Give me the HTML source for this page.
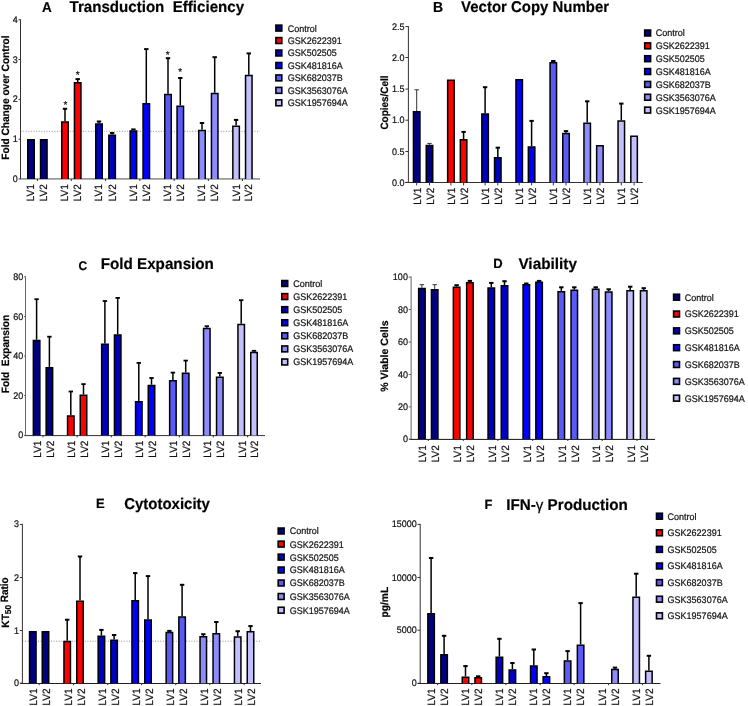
<!DOCTYPE html>
<html><head><meta charset="utf-8"><title>Figure</title>
<style>
html,body{margin:0;padding:0;background:#fff;}
body{width:748px;height:706px;overflow:hidden;}
svg{display:block;font-family:"Liberation Sans",sans-serif;will-change:transform;}
text{stroke:#111;stroke-width:0.2px;text-rendering:geometricPrecision;}
</style></head>
<body>
<svg width="748" height="706" viewBox="0 0 748 706" font-family="Liberation Sans, sans-serif">
<rect width="748" height="706" fill="#fff"/>
<line x1="20.5" y1="131.3" x2="260" y2="131.3" stroke="#777" stroke-width="0.8" stroke-dasharray="1,1.6"/>
<line x1="20.5" y1="178.9" x2="260" y2="178.9" stroke="#999" stroke-width="1.7"/>
<rect x="27.75" y="139.75" width="6.5" height="39.25" fill="#000080"/>
<path d="M27.75 179V139.75H34.25V179" fill="none" stroke="#000" stroke-width="1.5"/>
<rect x="40.55" y="139.75" width="6.5" height="39.25" fill="#000080"/>
<path d="M40.55 179V139.75H47.05V179" fill="none" stroke="#000" stroke-width="1.5"/>
<line x1="65" y1="121.3" x2="65" y2="108.8" stroke="#000" stroke-width="1.5"/>
<line x1="62.8" y1="108.8" x2="67.2" y2="108.8" stroke="#000" stroke-width="2"/>
<rect x="61.75" y="122.05" width="6.5" height="56.95" fill="#ff0000"/>
<path d="M61.75 179V122.05H68.25V179" fill="none" stroke="#000" stroke-width="1.5"/>
<line x1="77.7" y1="82" x2="77.7" y2="79.1" stroke="#000" stroke-width="1.5"/>
<line x1="75.5" y1="79.1" x2="79.9" y2="79.1" stroke="#000" stroke-width="2"/>
<rect x="74.45" y="82.75" width="6.5" height="96.25" fill="#ff0000"/>
<path d="M74.45 179V82.75H80.95V179" fill="none" stroke="#000" stroke-width="1.5"/>
<line x1="99" y1="123.2" x2="99" y2="121.5" stroke="#000" stroke-width="1.5"/>
<line x1="96.8" y1="121.5" x2="101.2" y2="121.5" stroke="#000" stroke-width="2"/>
<rect x="95.75" y="123.95" width="6.5" height="55.05" fill="#0000c0"/>
<path d="M95.75 179V123.95H102.25V179" fill="none" stroke="#000" stroke-width="1.5"/>
<line x1="112.1" y1="134.5" x2="112.1" y2="133" stroke="#000" stroke-width="1.5"/>
<line x1="109.9" y1="133" x2="114.3" y2="133" stroke="#000" stroke-width="2"/>
<rect x="108.85" y="135.25" width="6.5" height="43.75" fill="#0000c0"/>
<path d="M108.85 179V135.25H115.35V179" fill="none" stroke="#000" stroke-width="1.5"/>
<line x1="133.4" y1="130.2" x2="133.4" y2="129.4" stroke="#000" stroke-width="1.5"/>
<line x1="131.2" y1="129.4" x2="135.6" y2="129.4" stroke="#000" stroke-width="2"/>
<rect x="130.15" y="130.95" width="6.5" height="48.05" fill="#0000ff"/>
<path d="M130.15 179V130.95H136.65V179" fill="none" stroke="#000" stroke-width="1.5"/>
<line x1="146.3" y1="103.1" x2="146.3" y2="49.1" stroke="#000" stroke-width="1.5"/>
<line x1="144.1" y1="49.1" x2="148.5" y2="49.1" stroke="#000" stroke-width="2"/>
<rect x="143.05" y="103.85" width="6.5" height="75.15" fill="#0000ff"/>
<path d="M143.05 179V103.85H149.55V179" fill="none" stroke="#000" stroke-width="1.5"/>
<line x1="168" y1="93.7" x2="168" y2="58.2" stroke="#000" stroke-width="1.5"/>
<line x1="165.8" y1="58.2" x2="170.2" y2="58.2" stroke="#000" stroke-width="2"/>
<rect x="164.75" y="94.45" width="6.5" height="84.55" fill="#5a5af8"/>
<path d="M164.75 179V94.45H171.25V179" fill="none" stroke="#000" stroke-width="1.5"/>
<line x1="180.3" y1="105.4" x2="180.3" y2="78" stroke="#000" stroke-width="1.5"/>
<line x1="178.1" y1="78" x2="182.5" y2="78" stroke="#000" stroke-width="2"/>
<rect x="177.05" y="106.15" width="6.5" height="72.85" fill="#5a5af8"/>
<path d="M177.05 179V106.15H183.55V179" fill="none" stroke="#000" stroke-width="1.5"/>
<line x1="202" y1="129.8" x2="202" y2="123" stroke="#000" stroke-width="1.5"/>
<line x1="199.8" y1="123" x2="204.2" y2="123" stroke="#000" stroke-width="2"/>
<rect x="198.75" y="130.55" width="6.5" height="48.45" fill="#8c8cfc"/>
<path d="M198.75 179V130.55H205.25V179" fill="none" stroke="#000" stroke-width="1.5"/>
<line x1="214.7" y1="92.7" x2="214.7" y2="57.2" stroke="#000" stroke-width="1.5"/>
<line x1="212.5" y1="57.2" x2="216.9" y2="57.2" stroke="#000" stroke-width="2"/>
<rect x="211.45" y="93.45" width="6.5" height="85.55" fill="#8c8cfc"/>
<path d="M211.45 179V93.45H217.95V179" fill="none" stroke="#000" stroke-width="1.5"/>
<line x1="236.1" y1="125.6" x2="236.1" y2="119.9" stroke="#000" stroke-width="1.5"/>
<line x1="233.9" y1="119.9" x2="238.3" y2="119.9" stroke="#000" stroke-width="2"/>
<rect x="232.85" y="126.35" width="6.5" height="52.65" fill="#c2c0fc"/>
<path d="M232.85 179V126.35H239.35V179" fill="none" stroke="#000" stroke-width="1.5"/>
<line x1="248.8" y1="74.7" x2="248.8" y2="53.4" stroke="#000" stroke-width="1.5"/>
<line x1="246.6" y1="53.4" x2="251" y2="53.4" stroke="#000" stroke-width="2"/>
<rect x="245.55" y="75.45" width="6.5" height="103.55" fill="#c2c0fc"/>
<path d="M245.55 179V75.45H252.05V179" fill="none" stroke="#000" stroke-width="1.5"/>
<line x1="37.4" y1="179" x2="37.4" y2="181" stroke="#333" stroke-width="1"/>
<line x1="71.35" y1="179" x2="71.35" y2="181" stroke="#333" stroke-width="1"/>
<line x1="105.55" y1="179" x2="105.55" y2="181" stroke="#333" stroke-width="1"/>
<line x1="139.85" y1="179" x2="139.85" y2="181" stroke="#333" stroke-width="1"/>
<line x1="174.15" y1="179" x2="174.15" y2="181" stroke="#333" stroke-width="1"/>
<line x1="208.35" y1="179" x2="208.35" y2="181" stroke="#333" stroke-width="1"/>
<line x1="242.45" y1="179" x2="242.45" y2="181" stroke="#333" stroke-width="1"/>
<line x1="20.5" y1="19.3" x2="20.5" y2="179" stroke="#333" stroke-width="1"/>
<line x1="18.5" y1="179" x2="20.5" y2="179" stroke="#333" stroke-width="1"/>
<text transform="translate(17.7,182) scale(1,1.06)" font-size="9" text-anchor="end" fill="#111">0</text>
<line x1="18.5" y1="139.2" x2="20.5" y2="139.2" stroke="#333" stroke-width="1"/>
<text transform="translate(17.7,142.2) scale(1,1.06)" font-size="9" text-anchor="end" fill="#111">1</text>
<line x1="18.5" y1="99.4" x2="20.5" y2="99.4" stroke="#333" stroke-width="1"/>
<text transform="translate(17.7,102.4) scale(1,1.06)" font-size="9" text-anchor="end" fill="#111">2</text>
<line x1="18.5" y1="59.5" x2="20.5" y2="59.5" stroke="#333" stroke-width="1"/>
<text transform="translate(17.7,62.5) scale(1,1.06)" font-size="9" text-anchor="end" fill="#111">3</text>
<line x1="18.5" y1="19.8" x2="20.5" y2="19.8" stroke="#333" stroke-width="1"/>
<text transform="translate(17.7,22.8) scale(1,1.06)" font-size="9" text-anchor="end" fill="#111">4</text>
<text transform="translate(34.4,184.2) rotate(-90) scale(1,1.06)" font-size="10" text-anchor="end" fill="#111">LV1</text>
<text transform="translate(47.2,184.2) rotate(-90) scale(1,1.06)" font-size="10" text-anchor="end" fill="#111">LV2</text>
<text transform="translate(68.4,184.2) rotate(-90) scale(1,1.06)" font-size="10" text-anchor="end" fill="#111">LV1</text>
<text transform="translate(81.1,184.2) rotate(-90) scale(1,1.06)" font-size="10" text-anchor="end" fill="#111">LV2</text>
<text transform="translate(102.4,184.2) rotate(-90) scale(1,1.06)" font-size="10" text-anchor="end" fill="#111">LV1</text>
<text transform="translate(115.5,184.2) rotate(-90) scale(1,1.06)" font-size="10" text-anchor="end" fill="#111">LV2</text>
<text transform="translate(136.8,184.2) rotate(-90) scale(1,1.06)" font-size="10" text-anchor="end" fill="#111">LV1</text>
<text transform="translate(149.7,184.2) rotate(-90) scale(1,1.06)" font-size="10" text-anchor="end" fill="#111">LV2</text>
<text transform="translate(171.4,184.2) rotate(-90) scale(1,1.06)" font-size="10" text-anchor="end" fill="#111">LV1</text>
<text transform="translate(183.7,184.2) rotate(-90) scale(1,1.06)" font-size="10" text-anchor="end" fill="#111">LV2</text>
<text transform="translate(205.4,184.2) rotate(-90) scale(1,1.06)" font-size="10" text-anchor="end" fill="#111">LV1</text>
<text transform="translate(218.1,184.2) rotate(-90) scale(1,1.06)" font-size="10" text-anchor="end" fill="#111">LV2</text>
<text transform="translate(239.5,184.2) rotate(-90) scale(1,1.06)" font-size="10" text-anchor="end" fill="#111">LV1</text>
<text transform="translate(252.2,184.2) rotate(-90) scale(1,1.06)" font-size="10" text-anchor="end" fill="#111">LV2</text>
<text x="65.4" y="107.5" font-size="10" text-anchor="middle" fill="#111">*</text>
<text x="77.75" y="78.3" font-size="10" text-anchor="middle" fill="#111">*</text>
<text x="167.8" y="57.6" font-size="10" text-anchor="middle" fill="#111">*</text>
<text x="180.3" y="74.8" font-size="10" text-anchor="middle" fill="#111">*</text>
<text transform="translate(8.5,159.7) rotate(-90) scale(1,1.06)" font-size="10" font-weight="bold" fill="#000" textLength="124.3" lengthAdjust="spacingAndGlyphs">Fold Change over Control</text>
<text transform="translate(41.9,11.8) scale(1,1.04)" font-size="13.5" font-weight="bold" fill="#000">A</text>
<text transform="translate(69.5,11.8) scale(1,1.04)" font-size="15" font-weight="bold" fill="#000" textLength="174.6" lengthAdjust="spacingAndGlyphs">Transduction&#160;&#160;Efficiency</text>
<rect x="275.9" y="25.15" width="5.9" height="5.9" fill="#000080" stroke="#000" stroke-width="1.6"/>
<text transform="translate(287.8,31.5) scale(1,1.06)" font-size="9" fill="#111">Control</text>
<rect x="275.9" y="37.6" width="5.9" height="5.9" fill="#ff0000" stroke="#000" stroke-width="1.6"/>
<text transform="translate(287.8,43.95) scale(1,1.06)" font-size="9" fill="#111">GSK2622391</text>
<rect x="275.9" y="50.05" width="5.9" height="5.9" fill="#0000c0" stroke="#000" stroke-width="1.6"/>
<text transform="translate(287.8,56.4) scale(1,1.06)" font-size="9" fill="#111">GSK502505</text>
<rect x="275.9" y="62.5" width="5.9" height="5.9" fill="#0000ff" stroke="#000" stroke-width="1.6"/>
<text transform="translate(287.8,68.85) scale(1,1.06)" font-size="9" fill="#111">GSK481816A</text>
<rect x="275.9" y="74.95" width="5.9" height="5.9" fill="#5a5af8" stroke="#000" stroke-width="1.6"/>
<text transform="translate(287.8,81.3) scale(1,1.06)" font-size="9" fill="#111">GSK682037B</text>
<rect x="275.9" y="87.4" width="5.9" height="5.9" fill="#8c8cfc" stroke="#000" stroke-width="1.6"/>
<text transform="translate(287.8,93.75) scale(1,1.06)" font-size="9" fill="#111">GSK3563076A</text>
<rect x="275.9" y="99.85" width="5.9" height="5.9" fill="#c2c0fc" stroke="#000" stroke-width="1.6"/>
<text transform="translate(287.8,106.2) scale(1,1.06)" font-size="9" fill="#111">GSK1957694A</text>
<line x1="405.3" y1="182.5" x2="642.8" y2="182.5" stroke="#333" stroke-width="1.0"/>
<line x1="416.7" y1="111" x2="416.7" y2="89.8" stroke="#333" stroke-width="1.0"/>
<line x1="414.5" y1="89.8" x2="418.9" y2="89.8" stroke="#333" stroke-width="1.0"/>
<rect x="413.45" y="111.75" width="6.5" height="70.65" fill="#000080"/>
<path d="M413.45 182.4V111.75H419.95V182.4" fill="none" stroke="#000" stroke-width="1.5"/>
<line x1="429.5" y1="144.7" x2="429.5" y2="143.4" stroke="#333" stroke-width="1.0"/>
<line x1="427.3" y1="143.4" x2="431.7" y2="143.4" stroke="#333" stroke-width="1.0"/>
<rect x="426.25" y="145.45" width="6.5" height="36.95" fill="#000080"/>
<path d="M426.25 182.4V145.45H432.75V182.4" fill="none" stroke="#000" stroke-width="1.5"/>
<rect x="447.65" y="80.15" width="6.5" height="102.25" fill="#ff0000"/>
<path d="M447.65 182.4V80.15H454.15V182.4" fill="none" stroke="#000" stroke-width="1.5"/>
<line x1="463.6" y1="139.1" x2="463.6" y2="131.9" stroke="#000" stroke-width="1.5"/>
<line x1="461.4" y1="131.9" x2="465.8" y2="131.9" stroke="#000" stroke-width="2"/>
<rect x="460.35" y="139.85" width="6.5" height="42.55" fill="#ff0000"/>
<path d="M460.35 182.4V139.85H466.85V182.4" fill="none" stroke="#000" stroke-width="1.5"/>
<line x1="485.1" y1="113.3" x2="485.1" y2="87.2" stroke="#000" stroke-width="1.5"/>
<line x1="482.9" y1="87.2" x2="487.3" y2="87.2" stroke="#000" stroke-width="2"/>
<rect x="481.85" y="114.05" width="6.5" height="68.35" fill="#0000c0"/>
<path d="M481.85 182.4V114.05H488.35V182.4" fill="none" stroke="#000" stroke-width="1.5"/>
<line x1="497.8" y1="156.9" x2="497.8" y2="147.7" stroke="#000" stroke-width="1.5"/>
<line x1="495.6" y1="147.7" x2="500" y2="147.7" stroke="#000" stroke-width="2"/>
<rect x="494.55" y="157.65" width="6.5" height="24.75" fill="#0000c0"/>
<path d="M494.55 182.4V157.65H501.05V182.4" fill="none" stroke="#000" stroke-width="1.5"/>
<rect x="515.95" y="79.65" width="6.5" height="102.75" fill="#0000ff"/>
<path d="M515.95 182.4V79.65H522.45V182.4" fill="none" stroke="#000" stroke-width="1.5"/>
<line x1="531.6" y1="146.2" x2="531.6" y2="120.9" stroke="#000" stroke-width="1.5"/>
<line x1="529.4" y1="120.9" x2="533.8" y2="120.9" stroke="#000" stroke-width="2"/>
<rect x="528.35" y="146.95" width="6.5" height="35.45" fill="#0000ff"/>
<path d="M528.35 182.4V146.95H534.85V182.4" fill="none" stroke="#000" stroke-width="1.5"/>
<line x1="553.3" y1="62.1" x2="553.3" y2="61" stroke="#000" stroke-width="1.5"/>
<line x1="551.1" y1="61" x2="555.5" y2="61" stroke="#000" stroke-width="2"/>
<rect x="550.05" y="62.85" width="6.5" height="119.55" fill="#5a5af8"/>
<path d="M550.05 182.4V62.85H556.55V182.4" fill="none" stroke="#000" stroke-width="1.5"/>
<line x1="566" y1="132.7" x2="566" y2="131.1" stroke="#000" stroke-width="1.5"/>
<line x1="563.8" y1="131.1" x2="568.2" y2="131.1" stroke="#000" stroke-width="2"/>
<rect x="562.75" y="133.45" width="6.5" height="48.95" fill="#5a5af8"/>
<path d="M562.75 182.4V133.45H569.25V182.4" fill="none" stroke="#000" stroke-width="1.5"/>
<line x1="587.2" y1="122.5" x2="587.2" y2="101.3" stroke="#000" stroke-width="1.5"/>
<line x1="585" y1="101.3" x2="589.4" y2="101.3" stroke="#000" stroke-width="2"/>
<rect x="583.95" y="123.25" width="6.5" height="59.15" fill="#8c8cfc"/>
<path d="M583.95 182.4V123.25H590.45V182.4" fill="none" stroke="#000" stroke-width="1.5"/>
<rect x="596.65" y="145.65" width="6.5" height="36.75" fill="#8c8cfc"/>
<path d="M596.65 182.4V145.65H603.15V182.4" fill="none" stroke="#000" stroke-width="1.5"/>
<line x1="621.3" y1="120.2" x2="621.3" y2="103.6" stroke="#000" stroke-width="1.5"/>
<line x1="619.1" y1="103.6" x2="623.5" y2="103.6" stroke="#000" stroke-width="2"/>
<rect x="618.05" y="120.95" width="6.5" height="61.45" fill="#c2c0fc"/>
<path d="M618.05 182.4V120.95H624.55V182.4" fill="none" stroke="#000" stroke-width="1.5"/>
<rect x="630.85" y="136.25" width="6.5" height="46.15" fill="#c2c0fc"/>
<path d="M630.85 182.4V136.25H637.35V182.4" fill="none" stroke="#000" stroke-width="1.5"/>
<line x1="416.7" y1="182.4" x2="416.7" y2="185.4" stroke="#333" stroke-width="1"/>
<line x1="429.5" y1="182.4" x2="429.5" y2="185.4" stroke="#333" stroke-width="1"/>
<line x1="450.9" y1="182.4" x2="450.9" y2="185.4" stroke="#333" stroke-width="1"/>
<line x1="463.6" y1="182.4" x2="463.6" y2="185.4" stroke="#333" stroke-width="1"/>
<line x1="485.1" y1="182.4" x2="485.1" y2="185.4" stroke="#333" stroke-width="1"/>
<line x1="497.8" y1="182.4" x2="497.8" y2="185.4" stroke="#333" stroke-width="1"/>
<line x1="519.2" y1="182.4" x2="519.2" y2="185.4" stroke="#333" stroke-width="1"/>
<line x1="531.6" y1="182.4" x2="531.6" y2="185.4" stroke="#333" stroke-width="1"/>
<line x1="553.3" y1="182.4" x2="553.3" y2="185.4" stroke="#333" stroke-width="1"/>
<line x1="566" y1="182.4" x2="566" y2="185.4" stroke="#333" stroke-width="1"/>
<line x1="587.2" y1="182.4" x2="587.2" y2="185.4" stroke="#333" stroke-width="1"/>
<line x1="599.9" y1="182.4" x2="599.9" y2="185.4" stroke="#333" stroke-width="1"/>
<line x1="621.3" y1="182.4" x2="621.3" y2="185.4" stroke="#333" stroke-width="1"/>
<line x1="634.1" y1="182.4" x2="634.1" y2="185.4" stroke="#333" stroke-width="1"/>
<line x1="408.4" y1="26.1" x2="408.4" y2="182.4" stroke="#333" stroke-width="1"/>
<line x1="405.4" y1="182.4" x2="408.4" y2="182.4" stroke="#333" stroke-width="1"/>
<text transform="translate(404.6,186.4) scale(1,1.06)" font-size="9" text-anchor="end" fill="#111">0.0</text>
<line x1="405.4" y1="151.5" x2="408.4" y2="151.5" stroke="#333" stroke-width="1"/>
<text transform="translate(404.6,154.5) scale(1,1.06)" font-size="9" text-anchor="end" fill="#111">0.5</text>
<line x1="405.4" y1="120.2" x2="408.4" y2="120.2" stroke="#333" stroke-width="1"/>
<text transform="translate(404.6,123.2) scale(1,1.06)" font-size="9" text-anchor="end" fill="#111">1.0</text>
<line x1="405.4" y1="89.1" x2="408.4" y2="89.1" stroke="#333" stroke-width="1"/>
<text transform="translate(404.6,92.1) scale(1,1.06)" font-size="9" text-anchor="end" fill="#111">1.5</text>
<line x1="405.4" y1="57.5" x2="408.4" y2="57.5" stroke="#333" stroke-width="1"/>
<text transform="translate(404.6,60.5) scale(1,1.06)" font-size="9" text-anchor="end" fill="#111">2.0</text>
<line x1="405.4" y1="26.6" x2="408.4" y2="26.6" stroke="#333" stroke-width="1"/>
<text transform="translate(404.6,29.6) scale(1,1.06)" font-size="9" text-anchor="end" fill="#111">2.5</text>
<text transform="translate(420.7,187.6) rotate(-90) scale(1,1.06)" font-size="10" text-anchor="end" fill="#111">LV1</text>
<text transform="translate(433.5,187.6) rotate(-90) scale(1,1.06)" font-size="10" text-anchor="end" fill="#111">LV2</text>
<text transform="translate(454.9,187.6) rotate(-90) scale(1,1.06)" font-size="10" text-anchor="end" fill="#111">LV1</text>
<text transform="translate(467.6,187.6) rotate(-90) scale(1,1.06)" font-size="10" text-anchor="end" fill="#111">LV2</text>
<text transform="translate(489.1,187.6) rotate(-90) scale(1,1.06)" font-size="10" text-anchor="end" fill="#111">LV1</text>
<text transform="translate(501.8,187.6) rotate(-90) scale(1,1.06)" font-size="10" text-anchor="end" fill="#111">LV2</text>
<text transform="translate(523.2,187.6) rotate(-90) scale(1,1.06)" font-size="10" text-anchor="end" fill="#111">LV1</text>
<text transform="translate(535.6,187.6) rotate(-90) scale(1,1.06)" font-size="10" text-anchor="end" fill="#111">LV2</text>
<text transform="translate(557.3,187.6) rotate(-90) scale(1,1.06)" font-size="10" text-anchor="end" fill="#111">LV1</text>
<text transform="translate(570,187.6) rotate(-90) scale(1,1.06)" font-size="10" text-anchor="end" fill="#111">LV2</text>
<text transform="translate(591.2,187.6) rotate(-90) scale(1,1.06)" font-size="10" text-anchor="end" fill="#111">LV1</text>
<text transform="translate(603.9,187.6) rotate(-90) scale(1,1.06)" font-size="10" text-anchor="end" fill="#111">LV2</text>
<text transform="translate(625.3,187.6) rotate(-90) scale(1,1.06)" font-size="10" text-anchor="end" fill="#111">LV1</text>
<text transform="translate(638.1,187.6) rotate(-90) scale(1,1.06)" font-size="10" text-anchor="end" fill="#111">LV2</text>
<text transform="translate(387.9,129.6) rotate(-90) scale(1,1.06)" font-size="10" font-weight="bold" fill="#000" textLength="54.2" lengthAdjust="spacingAndGlyphs">Copies/Cell</text>
<text transform="translate(432.9,12) scale(1,1.04)" font-size="14" font-weight="bold" fill="#000">B</text>
<text transform="translate(461.1,12) scale(1,1.04)" font-size="15" font-weight="bold" fill="#000" textLength="148" lengthAdjust="spacingAndGlyphs">Vector Copy Number</text>
<rect x="644.7" y="30.05" width="5.9" height="5.9" fill="#000080" stroke="#000" stroke-width="1.6"/>
<text transform="translate(655.7,36.4) scale(1,1.06)" font-size="9" fill="#111">Control</text>
<rect x="644.7" y="42.9" width="5.9" height="5.9" fill="#ff0000" stroke="#000" stroke-width="1.6"/>
<text transform="translate(655.7,49.25) scale(1,1.06)" font-size="9" fill="#111">GSK2622391</text>
<rect x="644.7" y="55.75" width="5.9" height="5.9" fill="#0000c0" stroke="#000" stroke-width="1.6"/>
<text transform="translate(655.7,62.1) scale(1,1.06)" font-size="9" fill="#111">GSK502505</text>
<rect x="644.7" y="68.6" width="5.9" height="5.9" fill="#0000ff" stroke="#000" stroke-width="1.6"/>
<text transform="translate(655.7,74.95) scale(1,1.06)" font-size="9" fill="#111">GSK481816A</text>
<rect x="644.7" y="81.45" width="5.9" height="5.9" fill="#5a5af8" stroke="#000" stroke-width="1.6"/>
<text transform="translate(655.7,87.8) scale(1,1.06)" font-size="9" fill="#111">GSK682037B</text>
<rect x="644.7" y="94.3" width="5.9" height="5.9" fill="#8c8cfc" stroke="#000" stroke-width="1.6"/>
<text transform="translate(655.7,100.65) scale(1,1.06)" font-size="9" fill="#111">GSK3563076A</text>
<rect x="644.7" y="107.15" width="5.9" height="5.9" fill="#c2c0fc" stroke="#000" stroke-width="1.6"/>
<text transform="translate(655.7,113.5) scale(1,1.06)" font-size="9" fill="#111">GSK1957694A</text>
<line x1="24.6" y1="435.6" x2="265" y2="435.6" stroke="#333" stroke-width="1.0"/>
<line x1="36.6" y1="339.8" x2="36.6" y2="299.2" stroke="#000" stroke-width="1.5"/>
<line x1="34.4" y1="299.2" x2="38.8" y2="299.2" stroke="#000" stroke-width="1.8"/>
<rect x="33.35" y="340.55" width="6.5" height="94.85" fill="#000080"/>
<path d="M33.35 435.4V340.55H39.85V435.4" fill="none" stroke="#000" stroke-width="1.5"/>
<line x1="49.4" y1="367.1" x2="49.4" y2="336.7" stroke="#000" stroke-width="1.5"/>
<line x1="47.2" y1="336.7" x2="51.6" y2="336.7" stroke="#000" stroke-width="1.8"/>
<rect x="46.15" y="367.85" width="6.5" height="67.55" fill="#000080"/>
<path d="M46.15 435.4V367.85H52.65V435.4" fill="none" stroke="#000" stroke-width="1.5"/>
<line x1="70.8" y1="415.2" x2="70.8" y2="391.5" stroke="#000" stroke-width="1.5"/>
<line x1="68.6" y1="391.5" x2="73" y2="391.5" stroke="#000" stroke-width="1.8"/>
<rect x="67.55" y="415.95" width="6.5" height="19.45" fill="#ff0000"/>
<path d="M67.55 435.4V415.95H74.05V435.4" fill="none" stroke="#000" stroke-width="1.5"/>
<line x1="83.5" y1="394.6" x2="83.5" y2="384.1" stroke="#000" stroke-width="1.5"/>
<line x1="81.3" y1="384.1" x2="85.7" y2="384.1" stroke="#000" stroke-width="1.8"/>
<rect x="80.25" y="395.35" width="6.5" height="40.05" fill="#ff0000"/>
<path d="M80.25 435.4V395.35H86.75V435.4" fill="none" stroke="#000" stroke-width="1.5"/>
<line x1="104.9" y1="343.6" x2="104.9" y2="301" stroke="#000" stroke-width="1.5"/>
<line x1="102.7" y1="301" x2="107.1" y2="301" stroke="#000" stroke-width="1.8"/>
<rect x="101.65" y="344.35" width="6.5" height="91.05" fill="#0000c0"/>
<path d="M101.65 435.4V344.35H108.15V435.4" fill="none" stroke="#000" stroke-width="1.5"/>
<line x1="117.7" y1="334.2" x2="117.7" y2="297.9" stroke="#000" stroke-width="1.5"/>
<line x1="115.5" y1="297.9" x2="119.9" y2="297.9" stroke="#000" stroke-width="1.8"/>
<rect x="114.45" y="334.95" width="6.5" height="100.45" fill="#0000c0"/>
<path d="M114.45 435.4V334.95H120.95V435.4" fill="none" stroke="#000" stroke-width="1.5"/>
<line x1="138.8" y1="401" x2="138.8" y2="362.9" stroke="#000" stroke-width="1.5"/>
<line x1="136.6" y1="362.9" x2="141" y2="362.9" stroke="#000" stroke-width="1.8"/>
<rect x="135.55" y="401.75" width="6.5" height="33.65" fill="#0000ff"/>
<path d="M135.55 435.4V401.75H142.05V435.4" fill="none" stroke="#000" stroke-width="1.5"/>
<line x1="151.5" y1="384.7" x2="151.5" y2="378" stroke="#000" stroke-width="1.5"/>
<line x1="149.3" y1="378" x2="153.7" y2="378" stroke="#000" stroke-width="1.8"/>
<rect x="148.25" y="385.45" width="6.5" height="49.95" fill="#0000ff"/>
<path d="M148.25 435.4V385.45H154.75V435.4" fill="none" stroke="#000" stroke-width="1.5"/>
<line x1="172.9" y1="380.1" x2="172.9" y2="372.6" stroke="#000" stroke-width="1.5"/>
<line x1="170.7" y1="372.6" x2="175.1" y2="372.6" stroke="#000" stroke-width="1.8"/>
<rect x="169.65" y="380.85" width="6.5" height="54.55" fill="#5a5af8"/>
<path d="M169.65 435.4V380.85H176.15V435.4" fill="none" stroke="#000" stroke-width="1.5"/>
<line x1="185.7" y1="372.4" x2="185.7" y2="360.6" stroke="#000" stroke-width="1.5"/>
<line x1="183.5" y1="360.6" x2="187.9" y2="360.6" stroke="#000" stroke-width="1.8"/>
<rect x="182.45" y="373.15" width="6.5" height="62.25" fill="#5a5af8"/>
<path d="M182.45 435.4V373.15H188.95V435.4" fill="none" stroke="#000" stroke-width="1.5"/>
<line x1="206.8" y1="327.8" x2="206.8" y2="326.2" stroke="#000" stroke-width="1.5"/>
<line x1="204.6" y1="326.2" x2="209" y2="326.2" stroke="#000" stroke-width="1.8"/>
<rect x="203.55" y="328.55" width="6.5" height="106.85" fill="#8c8cfc"/>
<path d="M203.55 435.4V328.55H210.05V435.4" fill="none" stroke="#000" stroke-width="1.5"/>
<line x1="219.8" y1="376.5" x2="219.8" y2="372.9" stroke="#000" stroke-width="1.5"/>
<line x1="217.6" y1="372.9" x2="222" y2="372.9" stroke="#000" stroke-width="1.8"/>
<rect x="216.55" y="377.25" width="6.5" height="58.15" fill="#8c8cfc"/>
<path d="M216.55 435.4V377.25H223.05V435.4" fill="none" stroke="#000" stroke-width="1.5"/>
<line x1="241.2" y1="323.7" x2="241.2" y2="300.2" stroke="#000" stroke-width="1.5"/>
<line x1="239" y1="300.2" x2="243.4" y2="300.2" stroke="#000" stroke-width="1.8"/>
<rect x="237.95" y="324.45" width="6.5" height="110.95" fill="#c2c0fc"/>
<path d="M237.95 435.4V324.45H244.45V435.4" fill="none" stroke="#000" stroke-width="1.5"/>
<line x1="254" y1="351.8" x2="254" y2="350.8" stroke="#000" stroke-width="1.5"/>
<line x1="251.8" y1="350.8" x2="256.2" y2="350.8" stroke="#000" stroke-width="1.8"/>
<rect x="250.75" y="352.55" width="6.5" height="82.85" fill="#c2c0fc"/>
<path d="M250.75 435.4V352.55H257.25V435.4" fill="none" stroke="#000" stroke-width="1.5"/>
<line x1="43" y1="435.4" x2="43" y2="437.4" stroke="#333" stroke-width="1"/>
<line x1="77.15" y1="435.4" x2="77.15" y2="437.4" stroke="#333" stroke-width="1"/>
<line x1="111.3" y1="435.4" x2="111.3" y2="437.4" stroke="#333" stroke-width="1"/>
<line x1="145.15" y1="435.4" x2="145.15" y2="437.4" stroke="#333" stroke-width="1"/>
<line x1="179.3" y1="435.4" x2="179.3" y2="437.4" stroke="#333" stroke-width="1"/>
<line x1="213.3" y1="435.4" x2="213.3" y2="437.4" stroke="#333" stroke-width="1"/>
<line x1="247.6" y1="435.4" x2="247.6" y2="437.4" stroke="#333" stroke-width="1"/>
<line x1="25.5" y1="276.3" x2="25.5" y2="435.4" stroke="#666" stroke-width="1"/>
<line x1="24" y1="435.4" x2="25.5" y2="435.4" stroke="#666" stroke-width="1"/>
<text transform="translate(23.2,438.4) scale(1,1.06)" font-size="9" text-anchor="end" fill="#111">0</text>
<line x1="24" y1="395.6" x2="25.5" y2="395.6" stroke="#666" stroke-width="1"/>
<text transform="translate(23.2,398.6) scale(1,1.06)" font-size="9" text-anchor="end" fill="#111">20</text>
<line x1="24" y1="356.1" x2="25.5" y2="356.1" stroke="#666" stroke-width="1"/>
<text transform="translate(23.2,359.1) scale(1,1.06)" font-size="9" text-anchor="end" fill="#111">40</text>
<line x1="24" y1="316.6" x2="25.5" y2="316.6" stroke="#666" stroke-width="1"/>
<text transform="translate(23.2,319.6) scale(1,1.06)" font-size="9" text-anchor="end" fill="#111">60</text>
<line x1="24" y1="276.8" x2="25.5" y2="276.8" stroke="#666" stroke-width="1"/>
<text transform="translate(23.2,279.8) scale(1,1.06)" font-size="9" text-anchor="end" fill="#111">80</text>
<text transform="translate(41,440.6) rotate(-90) scale(1,1.06)" font-size="10" text-anchor="end" fill="#111">LV1</text>
<text transform="translate(53.8,440.6) rotate(-90) scale(1,1.06)" font-size="10" text-anchor="end" fill="#111">LV2</text>
<text transform="translate(75.2,440.6) rotate(-90) scale(1,1.06)" font-size="10" text-anchor="end" fill="#111">LV1</text>
<text transform="translate(87.9,440.6) rotate(-90) scale(1,1.06)" font-size="10" text-anchor="end" fill="#111">LV2</text>
<text transform="translate(109.3,440.6) rotate(-90) scale(1,1.06)" font-size="10" text-anchor="end" fill="#111">LV1</text>
<text transform="translate(122.1,440.6) rotate(-90) scale(1,1.06)" font-size="10" text-anchor="end" fill="#111">LV2</text>
<text transform="translate(143.2,440.6) rotate(-90) scale(1,1.06)" font-size="10" text-anchor="end" fill="#111">LV1</text>
<text transform="translate(155.9,440.6) rotate(-90) scale(1,1.06)" font-size="10" text-anchor="end" fill="#111">LV2</text>
<text transform="translate(177.3,440.6) rotate(-90) scale(1,1.06)" font-size="10" text-anchor="end" fill="#111">LV1</text>
<text transform="translate(190.1,440.6) rotate(-90) scale(1,1.06)" font-size="10" text-anchor="end" fill="#111">LV2</text>
<text transform="translate(211.2,440.6) rotate(-90) scale(1,1.06)" font-size="10" text-anchor="end" fill="#111">LV1</text>
<text transform="translate(224.2,440.6) rotate(-90) scale(1,1.06)" font-size="10" text-anchor="end" fill="#111">LV2</text>
<text transform="translate(245.6,440.6) rotate(-90) scale(1,1.06)" font-size="10" text-anchor="end" fill="#111">LV1</text>
<text transform="translate(258.4,440.6) rotate(-90) scale(1,1.06)" font-size="10" text-anchor="end" fill="#111">LV2</text>
<text transform="translate(8.7,393.2) rotate(-90) scale(1,1.06)" font-size="10" font-weight="bold" fill="#000" textLength="78.4" lengthAdjust="spacingAndGlyphs">Fold&#160;&#160;Expansion</text>
<text transform="translate(78.6,269.7) scale(1,1.04)" font-size="12" font-weight="bold" fill="#000">C</text>
<text transform="translate(100.7,268.8) scale(1,1.04)" font-size="15" font-weight="bold" fill="#000" textLength="113.2" lengthAdjust="spacingAndGlyphs">Fold Expansion</text>
<rect x="281.8" y="280.55" width="5.9" height="5.9" fill="#000080" stroke="#000" stroke-width="1.6"/>
<text transform="translate(293.3,286.9) scale(1,1.06)" font-size="9" fill="#111">Control</text>
<rect x="281.8" y="293.63" width="5.9" height="5.9" fill="#ff0000" stroke="#000" stroke-width="1.6"/>
<text transform="translate(293.3,299.98) scale(1,1.06)" font-size="9" fill="#111">GSK2622391</text>
<rect x="281.8" y="306.71" width="5.9" height="5.9" fill="#0000c0" stroke="#000" stroke-width="1.6"/>
<text transform="translate(293.3,313.06) scale(1,1.06)" font-size="9" fill="#111">GSK502505</text>
<rect x="281.8" y="319.79" width="5.9" height="5.9" fill="#0000ff" stroke="#000" stroke-width="1.6"/>
<text transform="translate(293.3,326.14) scale(1,1.06)" font-size="9" fill="#111">GSK481816A</text>
<rect x="281.8" y="332.87" width="5.9" height="5.9" fill="#5a5af8" stroke="#000" stroke-width="1.6"/>
<text transform="translate(293.3,339.22) scale(1,1.06)" font-size="9" fill="#111">GSK682037B</text>
<rect x="281.8" y="345.95" width="5.9" height="5.9" fill="#8c8cfc" stroke="#000" stroke-width="1.6"/>
<text transform="translate(293.3,352.3) scale(1,1.06)" font-size="9" fill="#111">GSK3563076A</text>
<rect x="281.8" y="359.03" width="5.9" height="5.9" fill="#c2c0fc" stroke="#000" stroke-width="1.6"/>
<text transform="translate(293.3,365.38) scale(1,1.06)" font-size="9" fill="#111">GSK1957694A</text>
<line x1="409.3" y1="439.4" x2="655" y2="439.4" stroke="#111" stroke-width="1.0"/>
<line x1="421.9" y1="287.8" x2="421.9" y2="284.7" stroke="#333" stroke-width="1.0"/>
<line x1="419.7" y1="284.7" x2="424.1" y2="284.7" stroke="#333" stroke-width="1.0"/>
<rect x="418.65" y="288.55" width="6.5" height="150.45" fill="#000080"/>
<path d="M418.65 439V288.55H425.15V439" fill="none" stroke="#000" stroke-width="1.5"/>
<line x1="434.7" y1="288.9" x2="434.7" y2="284.7" stroke="#333" stroke-width="1.0"/>
<line x1="432.5" y1="284.7" x2="436.9" y2="284.7" stroke="#333" stroke-width="1.0"/>
<rect x="431.45" y="289.65" width="6.5" height="149.35" fill="#000080"/>
<path d="M431.45 439V289.65H437.95V439" fill="none" stroke="#000" stroke-width="1.5"/>
<line x1="456.6" y1="286.5" x2="456.6" y2="285.2" stroke="#000" stroke-width="1.5"/>
<line x1="454.4" y1="285.2" x2="458.8" y2="285.2" stroke="#000" stroke-width="2"/>
<rect x="453.35" y="287.25" width="6.5" height="151.75" fill="#ff0000"/>
<path d="M453.35 439V287.25H459.85V439" fill="none" stroke="#000" stroke-width="1.5"/>
<line x1="469.9" y1="282" x2="469.9" y2="280.9" stroke="#000" stroke-width="1.5"/>
<line x1="467.7" y1="280.9" x2="472.1" y2="280.9" stroke="#000" stroke-width="2"/>
<rect x="466.65" y="282.75" width="6.5" height="156.25" fill="#ff0000"/>
<path d="M466.65 439V282.75H473.15V439" fill="none" stroke="#000" stroke-width="1.5"/>
<line x1="491.3" y1="287.3" x2="491.3" y2="282.9" stroke="#000" stroke-width="1.5"/>
<line x1="489.1" y1="282.9" x2="493.5" y2="282.9" stroke="#000" stroke-width="2"/>
<rect x="488.05" y="288.05" width="6.5" height="150.95" fill="#0000c0"/>
<path d="M488.05 439V288.05H494.55V439" fill="none" stroke="#000" stroke-width="1.5"/>
<line x1="504.5" y1="285" x2="504.5" y2="281.2" stroke="#000" stroke-width="1.5"/>
<line x1="502.3" y1="281.2" x2="506.7" y2="281.2" stroke="#000" stroke-width="2"/>
<rect x="501.25" y="285.75" width="6.5" height="153.25" fill="#0000c0"/>
<path d="M501.25 439V285.75H507.75V439" fill="none" stroke="#000" stroke-width="1.5"/>
<line x1="526.3" y1="284" x2="526.3" y2="283.5" stroke="#000" stroke-width="1.5"/>
<line x1="524.1" y1="283.5" x2="528.5" y2="283.5" stroke="#000" stroke-width="2"/>
<rect x="523.05" y="284.75" width="6.5" height="154.25" fill="#0000ff"/>
<path d="M523.05 439V284.75H529.55V439" fill="none" stroke="#000" stroke-width="1.5"/>
<line x1="539.1" y1="281.5" x2="539.1" y2="280.9" stroke="#000" stroke-width="1.5"/>
<line x1="536.9" y1="280.9" x2="541.3" y2="280.9" stroke="#000" stroke-width="2"/>
<rect x="535.85" y="282.25" width="6.5" height="156.75" fill="#0000ff"/>
<path d="M535.85 439V282.25H542.35V439" fill="none" stroke="#000" stroke-width="1.5"/>
<line x1="561.3" y1="290.9" x2="561.3" y2="287.3" stroke="#000" stroke-width="1.5"/>
<line x1="559.1" y1="287.3" x2="563.5" y2="287.3" stroke="#000" stroke-width="2"/>
<rect x="558.05" y="291.65" width="6.5" height="147.35" fill="#5a5af8"/>
<path d="M558.05 439V291.65H564.55V439" fill="none" stroke="#000" stroke-width="1.5"/>
<line x1="574.3" y1="289.6" x2="574.3" y2="287.3" stroke="#000" stroke-width="1.5"/>
<line x1="572.1" y1="287.3" x2="576.5" y2="287.3" stroke="#000" stroke-width="2"/>
<rect x="571.05" y="290.35" width="6.5" height="148.65" fill="#5a5af8"/>
<path d="M571.05 439V290.35H577.55V439" fill="none" stroke="#000" stroke-width="1.5"/>
<line x1="595.7" y1="288.6" x2="595.7" y2="287.3" stroke="#000" stroke-width="1.5"/>
<line x1="593.5" y1="287.3" x2="597.9" y2="287.3" stroke="#000" stroke-width="2"/>
<rect x="592.45" y="289.35" width="6.5" height="149.65" fill="#8c8cfc"/>
<path d="M592.45 439V289.35H598.95V439" fill="none" stroke="#000" stroke-width="1.5"/>
<line x1="608.7" y1="291.2" x2="608.7" y2="289.3" stroke="#000" stroke-width="1.5"/>
<line x1="606.5" y1="289.3" x2="610.9" y2="289.3" stroke="#000" stroke-width="2"/>
<rect x="605.45" y="291.95" width="6.5" height="147.05" fill="#8c8cfc"/>
<path d="M605.45 439V291.95H611.95V439" fill="none" stroke="#000" stroke-width="1.5"/>
<line x1="630.2" y1="290" x2="630.2" y2="286.7" stroke="#000" stroke-width="1.5"/>
<line x1="628" y1="286.7" x2="632.4" y2="286.7" stroke="#000" stroke-width="2"/>
<rect x="626.95" y="290.75" width="6.5" height="148.25" fill="#c2c0fc"/>
<path d="M626.95 439V290.75H633.45V439" fill="none" stroke="#000" stroke-width="1.5"/>
<line x1="643.7" y1="290.1" x2="643.7" y2="288.2" stroke="#000" stroke-width="1.5"/>
<line x1="641.5" y1="288.2" x2="645.9" y2="288.2" stroke="#000" stroke-width="2"/>
<rect x="640.45" y="290.85" width="6.5" height="148.15" fill="#c2c0fc"/>
<path d="M640.45 439V290.85H646.95V439" fill="none" stroke="#000" stroke-width="1.5"/>
<line x1="428.3" y1="439" x2="428.3" y2="441" stroke="#333" stroke-width="1"/>
<line x1="463.25" y1="439" x2="463.25" y2="441" stroke="#333" stroke-width="1"/>
<line x1="497.9" y1="439" x2="497.9" y2="441" stroke="#333" stroke-width="1"/>
<line x1="532.7" y1="439" x2="532.7" y2="441" stroke="#333" stroke-width="1"/>
<line x1="567.8" y1="439" x2="567.8" y2="441" stroke="#333" stroke-width="1"/>
<line x1="602.2" y1="439" x2="602.2" y2="441" stroke="#333" stroke-width="1"/>
<line x1="636.95" y1="439" x2="636.95" y2="441" stroke="#333" stroke-width="1"/>
<line x1="411.1" y1="276.6" x2="411.1" y2="439" stroke="#666" stroke-width="1"/>
<line x1="408.7" y1="439" x2="411.1" y2="439" stroke="#666" stroke-width="1"/>
<text transform="translate(407.9,442) scale(1,1.06)" font-size="9" text-anchor="end" fill="#111">0</text>
<line x1="408.7" y1="406.9" x2="411.1" y2="406.9" stroke="#666" stroke-width="1"/>
<text transform="translate(407.9,409.9) scale(1,1.06)" font-size="9" text-anchor="end" fill="#111">20</text>
<line x1="408.7" y1="374.5" x2="411.1" y2="374.5" stroke="#666" stroke-width="1"/>
<text transform="translate(407.9,377.5) scale(1,1.06)" font-size="9" text-anchor="end" fill="#111">40</text>
<line x1="408.7" y1="342.1" x2="411.1" y2="342.1" stroke="#666" stroke-width="1"/>
<text transform="translate(407.9,345.1) scale(1,1.06)" font-size="9" text-anchor="end" fill="#111">60</text>
<line x1="408.7" y1="309.5" x2="411.1" y2="309.5" stroke="#666" stroke-width="1"/>
<text transform="translate(407.9,312.5) scale(1,1.06)" font-size="9" text-anchor="end" fill="#111">80</text>
<line x1="408.7" y1="277.1" x2="411.1" y2="277.1" stroke="#666" stroke-width="1"/>
<text transform="translate(407.9,280.1) scale(1,1.06)" font-size="9" text-anchor="end" fill="#111">100</text>
<text transform="translate(426.3,445.2) rotate(-90) scale(1,1.06)" font-size="10" text-anchor="end" fill="#111">LV1</text>
<text transform="translate(439.1,445.2) rotate(-90) scale(1,1.06)" font-size="10" text-anchor="end" fill="#111">LV2</text>
<text transform="translate(461,445.2) rotate(-90) scale(1,1.06)" font-size="10" text-anchor="end" fill="#111">LV1</text>
<text transform="translate(474.3,445.2) rotate(-90) scale(1,1.06)" font-size="10" text-anchor="end" fill="#111">LV2</text>
<text transform="translate(495.7,445.2) rotate(-90) scale(1,1.06)" font-size="10" text-anchor="end" fill="#111">LV1</text>
<text transform="translate(508.9,445.2) rotate(-90) scale(1,1.06)" font-size="10" text-anchor="end" fill="#111">LV2</text>
<text transform="translate(530.7,445.2) rotate(-90) scale(1,1.06)" font-size="10" text-anchor="end" fill="#111">LV1</text>
<text transform="translate(543.5,445.2) rotate(-90) scale(1,1.06)" font-size="10" text-anchor="end" fill="#111">LV2</text>
<text transform="translate(565.7,445.2) rotate(-90) scale(1,1.06)" font-size="10" text-anchor="end" fill="#111">LV1</text>
<text transform="translate(578.7,445.2) rotate(-90) scale(1,1.06)" font-size="10" text-anchor="end" fill="#111">LV2</text>
<text transform="translate(600.1,445.2) rotate(-90) scale(1,1.06)" font-size="10" text-anchor="end" fill="#111">LV1</text>
<text transform="translate(613.1,445.2) rotate(-90) scale(1,1.06)" font-size="10" text-anchor="end" fill="#111">LV2</text>
<text transform="translate(634.6,445.2) rotate(-90) scale(1,1.06)" font-size="10" text-anchor="end" fill="#111">LV1</text>
<text transform="translate(648.1,445.2) rotate(-90) scale(1,1.06)" font-size="10" text-anchor="end" fill="#111">LV2</text>
<text transform="translate(388.4,391.7) rotate(-90) scale(1,1.06)" font-size="10" font-weight="bold" fill="#000" textLength="71.2" lengthAdjust="spacingAndGlyphs">% Viable Cells</text>
<text transform="translate(493.3,268) scale(1,1.04)" font-size="13" font-weight="bold" fill="#000">D</text>
<text transform="translate(518.4,269) scale(1,1.04)" font-size="15" font-weight="bold" fill="#000" textLength="58.6" lengthAdjust="spacingAndGlyphs">Viability</text>
<rect x="673.6" y="294.25" width="5.9" height="5.9" fill="#000080" stroke="#000" stroke-width="1.6"/>
<text transform="translate(684.8,300.6) scale(1,1.06)" font-size="9" fill="#111">Control</text>
<rect x="673.6" y="311.08" width="5.9" height="5.9" fill="#ff0000" stroke="#000" stroke-width="1.6"/>
<text transform="translate(684.8,317.43) scale(1,1.06)" font-size="9" fill="#111">GSK2622391</text>
<rect x="673.6" y="327.91" width="5.9" height="5.9" fill="#0000c0" stroke="#000" stroke-width="1.6"/>
<text transform="translate(684.8,334.26) scale(1,1.06)" font-size="9" fill="#111">GSK502505</text>
<rect x="673.6" y="344.74" width="5.9" height="5.9" fill="#0000ff" stroke="#000" stroke-width="1.6"/>
<text transform="translate(684.8,351.09) scale(1,1.06)" font-size="9" fill="#111">GSK481816A</text>
<rect x="673.6" y="361.57" width="5.9" height="5.9" fill="#5a5af8" stroke="#000" stroke-width="1.6"/>
<text transform="translate(684.8,367.92) scale(1,1.06)" font-size="9" fill="#111">GSK682037B</text>
<rect x="673.6" y="378.4" width="5.9" height="5.9" fill="#8c8cfc" stroke="#000" stroke-width="1.6"/>
<text transform="translate(684.8,384.75) scale(1,1.06)" font-size="9" fill="#111">GSK3563076A</text>
<rect x="673.6" y="395.23" width="5.9" height="5.9" fill="#c2c0fc" stroke="#000" stroke-width="1.6"/>
<text transform="translate(684.8,401.58) scale(1,1.06)" font-size="9" fill="#111">GSK1957694A</text>
<line x1="22.4" y1="641.2" x2="260.6" y2="641.2" stroke="#777" stroke-width="0.8" stroke-dasharray="1,1.6"/>
<line x1="20.1" y1="683.5" x2="261" y2="683.5" stroke="#222" stroke-width="1.0"/>
<rect x="29.55" y="631.75" width="6.5" height="51.45" fill="#000080"/>
<path d="M29.55 683.2V631.75H36.05V683.2" fill="none" stroke="#000" stroke-width="1.5"/>
<rect x="42.25" y="631.75" width="6.5" height="51.45" fill="#000080"/>
<path d="M42.25 683.2V631.75H48.75V683.2" fill="none" stroke="#000" stroke-width="1.5"/>
<line x1="67.2" y1="640.7" x2="67.2" y2="619.7" stroke="#000" stroke-width="1.5"/>
<line x1="65" y1="619.7" x2="69.4" y2="619.7" stroke="#000" stroke-width="2"/>
<rect x="63.95" y="641.45" width="6.5" height="41.75" fill="#ff0000"/>
<path d="M63.95 683.2V641.45H70.45V683.2" fill="none" stroke="#000" stroke-width="1.5"/>
<line x1="80" y1="600.4" x2="80" y2="556.5" stroke="#000" stroke-width="1.5"/>
<line x1="77.8" y1="556.5" x2="82.2" y2="556.5" stroke="#000" stroke-width="2"/>
<rect x="76.75" y="601.15" width="6.5" height="82.05" fill="#ff0000"/>
<path d="M76.75 683.2V601.15H83.25V683.2" fill="none" stroke="#000" stroke-width="1.5"/>
<line x1="101.4" y1="635.6" x2="101.4" y2="629.9" stroke="#000" stroke-width="1.5"/>
<line x1="99.2" y1="629.9" x2="103.6" y2="629.9" stroke="#000" stroke-width="2"/>
<rect x="98.15" y="636.35" width="6.5" height="46.85" fill="#0000c0"/>
<path d="M98.15 683.2V636.35H104.65V683.2" fill="none" stroke="#000" stroke-width="1.5"/>
<line x1="114.1" y1="639.4" x2="114.1" y2="635" stroke="#000" stroke-width="1.5"/>
<line x1="111.9" y1="635" x2="116.3" y2="635" stroke="#000" stroke-width="2"/>
<rect x="110.85" y="640.15" width="6.5" height="43.05" fill="#0000c0"/>
<path d="M110.85 683.2V640.15H117.35V683.2" fill="none" stroke="#000" stroke-width="1.5"/>
<line x1="135.2" y1="599.9" x2="135.2" y2="573.1" stroke="#000" stroke-width="1.5"/>
<line x1="133" y1="573.1" x2="137.4" y2="573.1" stroke="#000" stroke-width="2"/>
<rect x="131.95" y="600.65" width="6.5" height="82.55" fill="#0000ff"/>
<path d="M131.95 683.2V600.65H138.45V683.2" fill="none" stroke="#000" stroke-width="1.5"/>
<line x1="148" y1="619.3" x2="148" y2="576.1" stroke="#000" stroke-width="1.5"/>
<line x1="145.8" y1="576.1" x2="150.2" y2="576.1" stroke="#000" stroke-width="2"/>
<rect x="144.75" y="620.05" width="6.5" height="63.15" fill="#0000ff"/>
<path d="M144.75 683.2V620.05H151.25V683.2" fill="none" stroke="#000" stroke-width="1.5"/>
<line x1="169.4" y1="631.7" x2="169.4" y2="630.9" stroke="#000" stroke-width="1.5"/>
<line x1="167.2" y1="630.9" x2="171.6" y2="630.9" stroke="#000" stroke-width="2"/>
<rect x="166.15" y="632.45" width="6.5" height="50.75" fill="#5a5af8"/>
<path d="M166.15 683.2V632.45H172.65V683.2" fill="none" stroke="#000" stroke-width="1.5"/>
<line x1="182.1" y1="616.2" x2="182.1" y2="584.8" stroke="#000" stroke-width="1.5"/>
<line x1="179.9" y1="584.8" x2="184.3" y2="584.8" stroke="#000" stroke-width="2"/>
<rect x="178.85" y="616.95" width="6.5" height="66.25" fill="#5a5af8"/>
<path d="M178.85 683.2V616.95H185.35V683.2" fill="none" stroke="#000" stroke-width="1.5"/>
<line x1="203.3" y1="636.1" x2="203.3" y2="634.2" stroke="#000" stroke-width="1.5"/>
<line x1="201.1" y1="634.2" x2="205.5" y2="634.2" stroke="#000" stroke-width="2"/>
<rect x="200.05" y="636.85" width="6.5" height="46.35" fill="#8c8cfc"/>
<path d="M200.05 683.2V636.85H206.55V683.2" fill="none" stroke="#000" stroke-width="1.5"/>
<line x1="216.3" y1="633" x2="216.3" y2="622" stroke="#000" stroke-width="1.5"/>
<line x1="214.1" y1="622" x2="218.5" y2="622" stroke="#000" stroke-width="2"/>
<rect x="213.05" y="633.75" width="6.5" height="49.45" fill="#8c8cfc"/>
<path d="M213.05 683.2V633.75H219.55V683.2" fill="none" stroke="#000" stroke-width="1.5"/>
<line x1="237.7" y1="636.3" x2="237.7" y2="631.2" stroke="#000" stroke-width="1.5"/>
<line x1="235.5" y1="631.2" x2="239.9" y2="631.2" stroke="#000" stroke-width="2"/>
<rect x="234.45" y="637.05" width="6.5" height="46.15" fill="#c2c0fc"/>
<path d="M234.45 683.2V637.05H240.95V683.2" fill="none" stroke="#000" stroke-width="1.5"/>
<line x1="250.5" y1="631" x2="250.5" y2="626.1" stroke="#000" stroke-width="1.5"/>
<line x1="248.3" y1="626.1" x2="252.7" y2="626.1" stroke="#000" stroke-width="2"/>
<rect x="247.25" y="631.75" width="6.5" height="51.45" fill="#c2c0fc"/>
<path d="M247.25 683.2V631.75H253.75V683.2" fill="none" stroke="#000" stroke-width="1.5"/>
<line x1="39.15" y1="683.2" x2="39.15" y2="685.2" stroke="#333" stroke-width="1"/>
<line x1="73.6" y1="683.2" x2="73.6" y2="685.2" stroke="#333" stroke-width="1"/>
<line x1="107.75" y1="683.2" x2="107.75" y2="685.2" stroke="#333" stroke-width="1"/>
<line x1="141.6" y1="683.2" x2="141.6" y2="685.2" stroke="#333" stroke-width="1"/>
<line x1="175.75" y1="683.2" x2="175.75" y2="685.2" stroke="#333" stroke-width="1"/>
<line x1="209.8" y1="683.2" x2="209.8" y2="685.2" stroke="#333" stroke-width="1"/>
<line x1="244.1" y1="683.2" x2="244.1" y2="685.2" stroke="#333" stroke-width="1"/>
<line x1="22.4" y1="523.9" x2="22.4" y2="683.2" stroke="#333" stroke-width="1"/>
<line x1="19.8" y1="683.2" x2="22.4" y2="683.2" stroke="#333" stroke-width="1"/>
<text transform="translate(19,686.2) scale(1,1.06)" font-size="9" text-anchor="end" fill="#111">0</text>
<line x1="19.8" y1="630.5" x2="22.4" y2="630.5" stroke="#333" stroke-width="1"/>
<text transform="translate(19,633.5) scale(1,1.06)" font-size="9" text-anchor="end" fill="#111">1</text>
<line x1="19.8" y1="577.5" x2="22.4" y2="577.5" stroke="#333" stroke-width="1"/>
<text transform="translate(19,580.5) scale(1,1.06)" font-size="9" text-anchor="end" fill="#111">2</text>
<line x1="19.8" y1="524.4" x2="22.4" y2="524.4" stroke="#333" stroke-width="1"/>
<text transform="translate(19,527.4) scale(1,1.06)" font-size="9" text-anchor="end" fill="#111">3</text>
<text transform="translate(37.4,688.4) rotate(-90) scale(1,1.06)" font-size="10" text-anchor="end" fill="#111">LV1</text>
<text transform="translate(50.1,688.4) rotate(-90) scale(1,1.06)" font-size="10" text-anchor="end" fill="#111">LV2</text>
<text transform="translate(71.8,688.4) rotate(-90) scale(1,1.06)" font-size="10" text-anchor="end" fill="#111">LV1</text>
<text transform="translate(84.6,688.4) rotate(-90) scale(1,1.06)" font-size="10" text-anchor="end" fill="#111">LV2</text>
<text transform="translate(106,688.4) rotate(-90) scale(1,1.06)" font-size="10" text-anchor="end" fill="#111">LV1</text>
<text transform="translate(118.7,688.4) rotate(-90) scale(1,1.06)" font-size="10" text-anchor="end" fill="#111">LV2</text>
<text transform="translate(139.8,688.4) rotate(-90) scale(1,1.06)" font-size="10" text-anchor="end" fill="#111">LV1</text>
<text transform="translate(152.6,688.4) rotate(-90) scale(1,1.06)" font-size="10" text-anchor="end" fill="#111">LV2</text>
<text transform="translate(174,688.4) rotate(-90) scale(1,1.06)" font-size="10" text-anchor="end" fill="#111">LV1</text>
<text transform="translate(186.7,688.4) rotate(-90) scale(1,1.06)" font-size="10" text-anchor="end" fill="#111">LV2</text>
<text transform="translate(207.9,688.4) rotate(-90) scale(1,1.06)" font-size="10" text-anchor="end" fill="#111">LV1</text>
<text transform="translate(220.9,688.4) rotate(-90) scale(1,1.06)" font-size="10" text-anchor="end" fill="#111">LV2</text>
<text transform="translate(242.3,688.4) rotate(-90) scale(1,1.06)" font-size="10" text-anchor="end" fill="#111">LV1</text>
<text transform="translate(255.1,688.4) rotate(-90) scale(1,1.06)" font-size="10" text-anchor="end" fill="#111">LV2</text>
<text transform="translate(8.5,627.7) rotate(-90) scale(1,1.06)" font-size="10" font-weight="bold" fill="#000" textLength="13.7" lengthAdjust="spacingAndGlyphs">KT</text>
<text transform="translate(11.1,614.2) rotate(-90) scale(1,1.06)" font-size="8" font-weight="bold" fill="#000" textLength="9.3" lengthAdjust="spacingAndGlyphs">50</text>
<text transform="translate(8.3,602.3) rotate(-90) scale(1,1.06)" font-size="10" font-weight="bold" fill="#000" textLength="25" lengthAdjust="spacingAndGlyphs">Ratio</text>
<text transform="translate(96.1,508.4) scale(1,1.04)" font-size="13" font-weight="bold" fill="#000">E</text>
<text transform="translate(124.2,508.6) scale(1,1.04)" font-size="15" font-weight="bold" fill="#000" textLength="85.7" lengthAdjust="spacingAndGlyphs">Cytotoxicity</text>
<rect x="278.2" y="528.05" width="5.9" height="5.9" fill="#000080" stroke="#000" stroke-width="1.6"/>
<text transform="translate(289.7,534.4) scale(1,1.06)" font-size="9" fill="#111">Control</text>
<rect x="278.2" y="541.15" width="5.9" height="5.9" fill="#ff0000" stroke="#000" stroke-width="1.6"/>
<text transform="translate(289.7,547.5) scale(1,1.06)" font-size="9" fill="#111">GSK2622391</text>
<rect x="278.2" y="554.15" width="5.9" height="5.9" fill="#0000c0" stroke="#000" stroke-width="1.6"/>
<text transform="translate(289.7,560.5) scale(1,1.06)" font-size="9" fill="#111">GSK502505</text>
<rect x="278.2" y="567.05" width="5.9" height="5.9" fill="#0000ff" stroke="#000" stroke-width="1.6"/>
<text transform="translate(289.7,573.4) scale(1,1.06)" font-size="9" fill="#111">GSK481816A</text>
<rect x="278.2" y="580.05" width="5.9" height="5.9" fill="#5a5af8" stroke="#000" stroke-width="1.6"/>
<text transform="translate(289.7,586.4) scale(1,1.06)" font-size="9" fill="#111">GSK682037B</text>
<rect x="278.2" y="593.55" width="5.9" height="5.9" fill="#8c8cfc" stroke="#000" stroke-width="1.6"/>
<text transform="translate(289.7,599.9) scale(1,1.06)" font-size="9" fill="#111">GSK3563076A</text>
<rect x="278.2" y="607.25" width="5.9" height="5.9" fill="#c2c0fc" stroke="#000" stroke-width="1.6"/>
<text transform="translate(289.7,613.6) scale(1,1.06)" font-size="9" fill="#111">GSK1957694A</text>
<line x1="417.8" y1="683.5" x2="660.5" y2="683.5" stroke="#222" stroke-width="1.0"/>
<line x1="431.1" y1="613.1" x2="431.1" y2="558" stroke="#000" stroke-width="1.5"/>
<line x1="428.9" y1="558" x2="433.3" y2="558" stroke="#000" stroke-width="2"/>
<rect x="427.85" y="613.85" width="6.5" height="69.35" fill="#000080"/>
<path d="M427.85 683.2V613.85H434.35V683.2" fill="none" stroke="#000" stroke-width="1.5"/>
<line x1="444.1" y1="654" x2="444.1" y2="635.8" stroke="#000" stroke-width="1.5"/>
<line x1="441.9" y1="635.8" x2="446.3" y2="635.8" stroke="#000" stroke-width="2"/>
<rect x="440.85" y="654.75" width="6.5" height="28.45" fill="#000080"/>
<path d="M440.85 683.2V654.75H447.35V683.2" fill="none" stroke="#000" stroke-width="1.5"/>
<line x1="465.5" y1="676.4" x2="465.5" y2="666.1" stroke="#000" stroke-width="1.5"/>
<line x1="463.3" y1="666.1" x2="467.7" y2="666.1" stroke="#000" stroke-width="2"/>
<rect x="462.25" y="677.15" width="6.5" height="6.05" fill="#ff0000"/>
<path d="M462.25 683.2V677.15H468.75V683.2" fill="none" stroke="#000" stroke-width="1.5"/>
<line x1="478.2" y1="677.1" x2="478.2" y2="676.3" stroke="#000" stroke-width="1.5"/>
<line x1="476" y1="676.3" x2="480.4" y2="676.3" stroke="#000" stroke-width="2"/>
<rect x="474.95" y="677.85" width="6.5" height="5.35" fill="#ff0000"/>
<path d="M474.95 683.2V677.85H481.45V683.2" fill="none" stroke="#000" stroke-width="1.5"/>
<line x1="499.4" y1="656.5" x2="499.4" y2="638.8" stroke="#000" stroke-width="1.5"/>
<line x1="497.2" y1="638.8" x2="501.6" y2="638.8" stroke="#000" stroke-width="2"/>
<rect x="496.15" y="657.25" width="6.5" height="25.95" fill="#0000c0"/>
<path d="M496.15 683.2V657.25H502.65V683.2" fill="none" stroke="#000" stroke-width="1.5"/>
<line x1="512.4" y1="669.2" x2="512.4" y2="663" stroke="#000" stroke-width="1.5"/>
<line x1="510.2" y1="663" x2="514.6" y2="663" stroke="#000" stroke-width="2"/>
<rect x="509.15" y="669.95" width="6.5" height="13.25" fill="#0000c0"/>
<path d="M509.15 683.2V669.95H515.65V683.2" fill="none" stroke="#000" stroke-width="1.5"/>
<line x1="533.8" y1="665.2" x2="533.8" y2="649.5" stroke="#000" stroke-width="1.5"/>
<line x1="531.6" y1="649.5" x2="536" y2="649.5" stroke="#000" stroke-width="2"/>
<rect x="530.55" y="665.95" width="6.5" height="17.25" fill="#0000ff"/>
<path d="M530.55 683.2V665.95H537.05V683.2" fill="none" stroke="#000" stroke-width="1.5"/>
<line x1="546.4" y1="676.1" x2="546.4" y2="673.2" stroke="#000" stroke-width="1.5"/>
<line x1="544.2" y1="673.2" x2="548.6" y2="673.2" stroke="#000" stroke-width="2"/>
<rect x="543.15" y="676.85" width="6.5" height="6.35" fill="#0000ff"/>
<path d="M543.15 683.2V676.85H549.65V683.2" fill="none" stroke="#000" stroke-width="1.5"/>
<line x1="567.6" y1="660.3" x2="567.6" y2="651.1" stroke="#000" stroke-width="1.5"/>
<line x1="565.4" y1="651.1" x2="569.8" y2="651.1" stroke="#000" stroke-width="2"/>
<rect x="564.35" y="661.05" width="6.5" height="22.15" fill="#5a5af8"/>
<path d="M564.35 683.2V661.05H570.85V683.2" fill="none" stroke="#000" stroke-width="1.5"/>
<line x1="580.6" y1="644.5" x2="580.6" y2="603.1" stroke="#000" stroke-width="1.5"/>
<line x1="578.4" y1="603.1" x2="582.8" y2="603.1" stroke="#000" stroke-width="2"/>
<rect x="577.35" y="645.25" width="6.5" height="37.95" fill="#5a5af8"/>
<path d="M577.35 683.2V645.25H583.85V683.2" fill="none" stroke="#000" stroke-width="1.5"/>
<line x1="615" y1="668.7" x2="615" y2="667.6" stroke="#000" stroke-width="1.5"/>
<line x1="612.8" y1="667.6" x2="617.2" y2="667.6" stroke="#000" stroke-width="2"/>
<rect x="611.75" y="669.45" width="6.5" height="13.75" fill="#8c8cfc"/>
<path d="M611.75 683.2V669.45H618.25V683.2" fill="none" stroke="#000" stroke-width="1.5"/>
<line x1="636.2" y1="596.5" x2="636.2" y2="573.7" stroke="#000" stroke-width="1.5"/>
<line x1="634" y1="573.7" x2="638.4" y2="573.7" stroke="#000" stroke-width="2"/>
<rect x="632.95" y="597.25" width="6.5" height="85.95" fill="#c2c0fc"/>
<path d="M632.95 683.2V597.25H639.45V683.2" fill="none" stroke="#000" stroke-width="1.5"/>
<line x1="648.9" y1="670.6" x2="648.9" y2="655.8" stroke="#000" stroke-width="1.5"/>
<line x1="646.7" y1="655.8" x2="651.1" y2="655.8" stroke="#000" stroke-width="2"/>
<rect x="645.65" y="671.35" width="6.5" height="11.85" fill="#c2c0fc"/>
<path d="M645.65 683.2V671.35H652.15V683.2" fill="none" stroke="#000" stroke-width="1.5"/>
<line x1="437.6" y1="683.2" x2="437.6" y2="685.2" stroke="#333" stroke-width="1"/>
<line x1="471.85" y1="683.2" x2="471.85" y2="685.2" stroke="#333" stroke-width="1"/>
<line x1="505.9" y1="683.2" x2="505.9" y2="685.2" stroke="#333" stroke-width="1"/>
<line x1="540.1" y1="683.2" x2="540.1" y2="685.2" stroke="#333" stroke-width="1"/>
<line x1="574.1" y1="683.2" x2="574.1" y2="685.2" stroke="#333" stroke-width="1"/>
<line x1="608.5" y1="683.2" x2="608.5" y2="685.2" stroke="#333" stroke-width="1"/>
<line x1="642.55" y1="683.2" x2="642.55" y2="685.2" stroke="#333" stroke-width="1"/>
<line x1="420.2" y1="523.9" x2="420.2" y2="683.2" stroke="#333" stroke-width="1"/>
<line x1="417.5" y1="683.2" x2="420.2" y2="683.2" stroke="#333" stroke-width="1"/>
<text transform="translate(416.7,686.2) scale(1,1.06)" font-size="9" text-anchor="end" fill="#111">0</text>
<line x1="417.5" y1="630.2" x2="420.2" y2="630.2" stroke="#333" stroke-width="1"/>
<text transform="translate(416.7,633.2) scale(1,1.06)" font-size="9" text-anchor="end" fill="#111">5000</text>
<line x1="417.5" y1="577.5" x2="420.2" y2="577.5" stroke="#333" stroke-width="1"/>
<text transform="translate(416.7,580.5) scale(1,1.06)" font-size="9" text-anchor="end" fill="#111">10000</text>
<line x1="417.5" y1="524.4" x2="420.2" y2="524.4" stroke="#333" stroke-width="1"/>
<text transform="translate(416.7,527.4) scale(1,1.06)" font-size="9" text-anchor="end" fill="#111">15000</text>
<text transform="translate(434.7,688.4) rotate(-90) scale(1,1.06)" font-size="10" text-anchor="end" fill="#111">LV1</text>
<text transform="translate(447.7,688.4) rotate(-90) scale(1,1.06)" font-size="10" text-anchor="end" fill="#111">LV2</text>
<text transform="translate(469.1,688.4) rotate(-90) scale(1,1.06)" font-size="10" text-anchor="end" fill="#111">LV1</text>
<text transform="translate(481.8,688.4) rotate(-90) scale(1,1.06)" font-size="10" text-anchor="end" fill="#111">LV2</text>
<text transform="translate(503,688.4) rotate(-90) scale(1,1.06)" font-size="10" text-anchor="end" fill="#111">LV1</text>
<text transform="translate(516,688.4) rotate(-90) scale(1,1.06)" font-size="10" text-anchor="end" fill="#111">LV2</text>
<text transform="translate(537.4,688.4) rotate(-90) scale(1,1.06)" font-size="10" text-anchor="end" fill="#111">LV1</text>
<text transform="translate(550,688.4) rotate(-90) scale(1,1.06)" font-size="10" text-anchor="end" fill="#111">LV2</text>
<text transform="translate(571.2,688.4) rotate(-90) scale(1,1.06)" font-size="10" text-anchor="end" fill="#111">LV1</text>
<text transform="translate(584.2,688.4) rotate(-90) scale(1,1.06)" font-size="10" text-anchor="end" fill="#111">LV2</text>
<text transform="translate(605.6,688.4) rotate(-90) scale(1,1.06)" font-size="10" text-anchor="end" fill="#111">LV1</text>
<text transform="translate(618.6,688.4) rotate(-90) scale(1,1.06)" font-size="10" text-anchor="end" fill="#111">LV2</text>
<text transform="translate(639.8,688.4) rotate(-90) scale(1,1.06)" font-size="10" text-anchor="end" fill="#111">LV1</text>
<text transform="translate(652.5,688.4) rotate(-90) scale(1,1.06)" font-size="10" text-anchor="end" fill="#111">LV2</text>
<text transform="translate(388.4,617.5) rotate(-90) scale(1,1.06)" font-size="10" font-weight="bold" fill="#000" textLength="30.7" lengthAdjust="spacingAndGlyphs">pg/mL</text>
<text transform="translate(484.6,508.9) scale(1,1.04)" font-size="12.8" font-weight="bold" fill="#000">F</text>
<text transform="translate(506.2,510.4) scale(1,1.04)" font-size="15" font-weight="bold" fill="#000" textLength="121.6" lengthAdjust="spacingAndGlyphs">IFN-<tspan font-weight="normal">&#947;</tspan> Production</text>
<rect x="656.5" y="513.25" width="5.9" height="5.9" fill="#000080" stroke="#000" stroke-width="1.6"/>
<text transform="translate(667.6,519.6) scale(1,1.06)" font-size="9" fill="#111">Control</text>
<rect x="656.5" y="529.85" width="5.9" height="5.9" fill="#ff0000" stroke="#000" stroke-width="1.6"/>
<text transform="translate(667.6,536.2) scale(1,1.06)" font-size="9" fill="#111">GSK2622391</text>
<rect x="656.5" y="546.45" width="5.9" height="5.9" fill="#0000c0" stroke="#000" stroke-width="1.6"/>
<text transform="translate(667.6,552.8) scale(1,1.06)" font-size="9" fill="#111">GSK502505</text>
<rect x="656.5" y="563.05" width="5.9" height="5.9" fill="#0000ff" stroke="#000" stroke-width="1.6"/>
<text transform="translate(667.6,569.4) scale(1,1.06)" font-size="9" fill="#111">GSK481816A</text>
<rect x="656.5" y="579.65" width="5.9" height="5.9" fill="#5a5af8" stroke="#000" stroke-width="1.6"/>
<text transform="translate(667.6,586) scale(1,1.06)" font-size="9" fill="#111">GSK682037B</text>
<rect x="656.5" y="596.25" width="5.9" height="5.9" fill="#8c8cfc" stroke="#000" stroke-width="1.6"/>
<text transform="translate(667.6,602.6) scale(1,1.06)" font-size="9" fill="#111">GSK3563076A</text>
<rect x="656.5" y="612.85" width="5.9" height="5.9" fill="#c2c0fc" stroke="#000" stroke-width="1.6"/>
<text transform="translate(667.6,619.2) scale(1,1.06)" font-size="9" fill="#111">GSK1957694A</text>
</svg>
</body></html>
